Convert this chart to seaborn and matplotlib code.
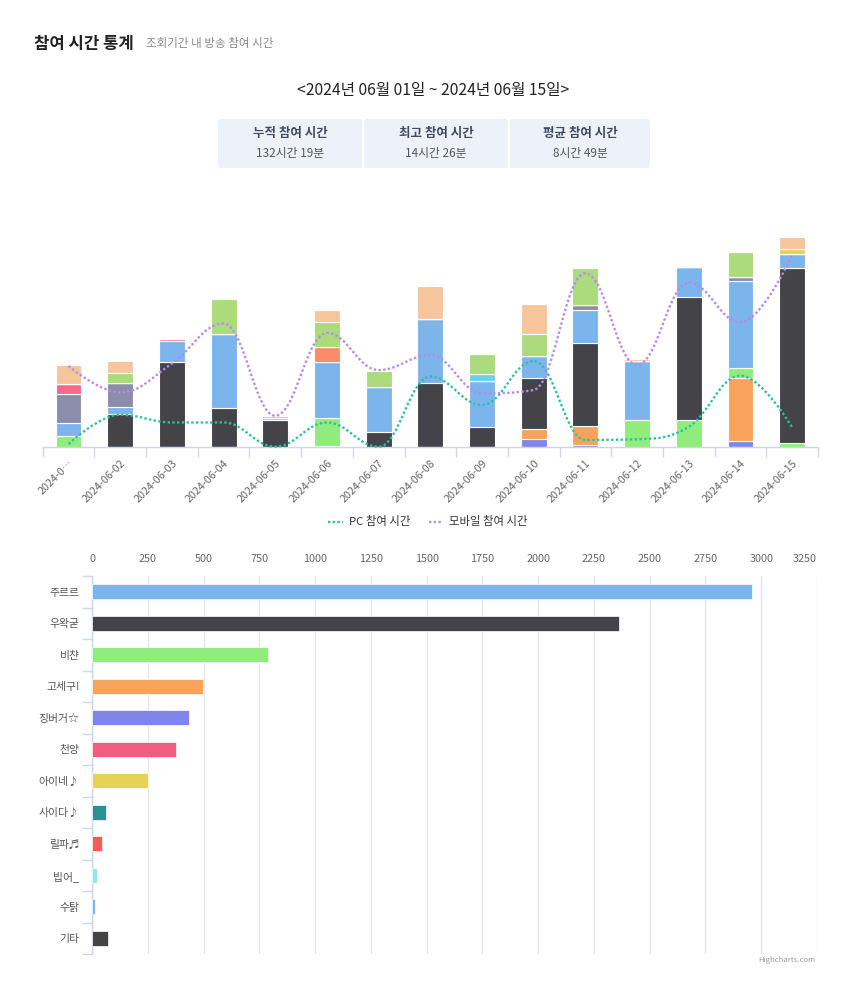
import numpy as np
import matplotlib
matplotlib.use("Agg")
import matplotlib.pyplot as plt
from matplotlib.patches import FancyBboxPatch, PathPatch
from matplotlib.path import Path
from matplotlib.lines import Line2D
import seaborn as sns

# ---------------- data ----------------
dates = ["2024-06-01", "2024-06-02", "2024-06-03", "2024-06-04", "2024-06-05",
         "2024-06-06", "2024-06-07", "2024-06-08", "2024-06-09", "2024-06-10",
         "2024-06-11", "2024-06-12", "2024-06-13", "2024-06-14", "2024-06-15"]
date_labels = ["2024-0…"] + dates[1:]

# daily participation minutes per streamer (stacked bottom -> top)
etc_daily      = [0, 0, 0, 0, 0, 4, 0, 0, 0, 30, 7, 0, 0, 24, 0]
cheonyang_d    = [0, 0, 0, 0, 0, 0, 0, 0, 0, 41, 78, 0, 0, 261, 0]
jingburger_d   = [44, 0, 0, 0, 0, 115, 0, 0, 0, 0, 0, 110, 110, 38, 14]
jururu_d       = [0, 135, 348, 160, 111, 0, 61, 263, 82, 213, 344, 0, 508, 0, 722]
woowakgood_d   = [52, 30, 89, 305, 8, 231, 186, 264, 188, 91, 135, 245, 124, 360, 59]
ine_d          = [120, 98, 0, 0, 0, 0, 0, 0, 0, 0, 21, 0, 0, 18, 0]
lilpa_d        = [44, 0, 8, 0, 0, 0, 0, 0, 0, 0, 0, 0, 0, 0, 0]
saida_d        = [0, 0, 0, 0, 0, 63, 0, 0, 0, 0, 0, 0, 0, 0, 0]
bibeo_d        = [0, 0, 0, 0, 0, 0, 0, 0, 29, 0, 0, 0, 0, 0, 0]
sutak_d        = [0, 0, 0, 0, 0, 0, 0, 0, 0, 0, 0, 0, 0, 0, 19]
viichan_d      = [0, 40, 0, 144, 8, 103, 67, 0, 82, 89, 151, 0, 0, 103, 0]
gosegu_d       = [78, 51, 0, 0, 0, 48, 0, 135, 0, 124, 0, 8, 0, 0, 52]

stack_series = [etc_daily, cheonyang_d, jingburger_d, jururu_d, woowakgood_d, ine_d,
                lilpa_d, saida_d, bibeo_d, sutak_d, viichan_d, gosegu_d]
stack_colors = ["#8085e9", "#f7a35c", "#90ed7d", "#434348", "#7cb5ec", "#8b8dab",
                "#f7688c", "#fd8a68", "#6dd0ea", "#e4d354", "#abdb7c", "#f7c59c"]

pc_minutes     = [11, 132, 100, 100, 0, 100, 0, 289, 172, 353, 28, 31, 82, 293, 80]
mobile_minutes = [333, 224, 343, 508, 128, 469, 316, 378, 220, 234, 715, 337, 676, 513, 790]

streamers = ["주르르", "우왁굳", "비챤", "고세구!", "징버거☆", "천양", "아이네♪",
             "사이다♪", "릴파♬", "빕어_", "수탉", "기타"]
totals = [2958, 2361, 790, 498, 435, 377, 251, 63, 45, 22, 14, 72]
bar_colors = ["#7cb5ec", "#434348", "#90ed7d", "#f7a35c", "#8085e9", "#f15c80",
              "#e4d354", "#2b908f", "#f45b5b", "#91e8e1", "#7cb5ec", "#434348"]
x_ticks = [0, 250, 500, 750, 1000, 1250, 1500, 1750, 2000, 2250, 2500, 2750, 3000, 3250]

# ---------------- style ----------------
sns.set_theme(style="white")
plt.rcParams["font.family"] = ["Noto Sans CJK KR", "DejaVu Sans"]

W, H = 850, 982
fig = plt.figure(figsize=(W / 100, H / 100), dpi=100)
fig.patch.set_facecolor("white")

def fx(px):
    return px / W

def fy(py):
    return 1 - py / H

# header texts
fig.text(fx(34), fy(44), "참여 시간 통계", fontsize=12, fontweight="bold",
         color="#222222", va="center", ha="left")
fig.text(fx(146), fy(44), "조회기간 내 방송 참여 시간", fontsize=8.3,
         color="#8a8a8a", va="center", ha="left")
fig.text(fx(433), fy(91), "<2024년 06월 01일 ~ 2024년 06월 15일>", fontsize=11.3,
         color="#222222", va="center", ha="center", fontweight="medium")

boxes = [(218, 362, "누적 참여 시간", "132시간 19분"),
         (364, 508, "최고 참여 시간", "14시간 26분"),
         (510, 650, "평균 참여 시간", "8시간 49분")]
for x0, x1, t, v in boxes:
    p = FancyBboxPatch((fx(x0), fy(168)), fx(x1 - x0), (168 - 119) / H,
                       boxstyle="round,pad=0,rounding_size=0.003",
                       transform=fig.transFigure, facecolor="#edf1f9",
                       edgecolor="none")
    fig.patches.append(p)
    cx = (x0 + x1) / 2
    fig.text(fx(cx), fy(134), t, fontsize=9, fontweight="bold", color="#3f4a5e",
             ha="center", va="center")
    fig.text(fx(cx), fy(154), v, fontsize=8.5, color="#555555",
             ha="center", va="center")

# ---------------- top stacked chart ----------------
ax1 = fig.add_axes([fx(42.7), fy(446.7), fx(818 - 42.7), (446.7 - 204.2) / H])
xpos = np.arange(len(dates))
bottom = np.zeros(len(dates))
for vals, col in zip(stack_series, stack_colors):
    vals = np.array(vals, dtype=float)
    ax1.bar(xpos, vals, bottom=bottom, width=0.5, color=col,
            edgecolor="white", linewidth=0.8, zorder=2)
    bottom += vals


def hc_spline(xs, ys, smoothing=1.5):
    n = len(xs)
    left = [(xs[i], ys[i]) for i in range(n)]
    right = [(xs[i], ys[i]) for i in range(n)]
    d = smoothing + 1
    for i in range(1, n - 1):
        px, py = xs[i], ys[i]
        lx, ly = xs[i - 1], ys[i - 1]
        nx, ny = xs[i + 1], ys[i + 1]
        lcx = (smoothing * px + lx) / d
        lcy = (smoothing * py + ly) / d
        rcx = (smoothing * px + nx) / d
        rcy = (smoothing * py + ny) / d
        if rcx != lcx:
            corr = ((rcy - lcy) * (rcx - px)) / (rcx - lcx) + py - rcy
            lcy += corr
            rcy += corr
        if lcy > ly and lcy > py:
            lcy = max(ly, py)
            rcy = 2 * py - lcy
        elif lcy < ly and lcy < py:
            lcy = min(ly, py)
            rcy = 2 * py - lcy
        if rcy > ny and rcy > py:
            rcy = max(ny, py)
            lcy = 2 * py - rcy
        elif rcy < ny and rcy < py:
            rcy = min(ny, py)
            lcy = 2 * py - rcy
        left[i] = (lcx, lcy)
        right[i] = (rcx, rcy)
    verts = [(xs[0], ys[0])]
    codes = [Path.MOVETO]
    for i in range(1, n):
        verts += [right[i - 1], left[i], (xs[i], ys[i])]
        codes += [Path.CURVE4] * 3
    return Path(verts, codes)


pc_color = "#2ac19e"
mo_color = "#b68bea"
dot_style = (0, (1, 1))
for vals, col in [(pc_minutes, pc_color), (mobile_minutes, mo_color)]:
    path = hc_spline(list(xpos.astype(float)), [float(v) for v in vals])
    ax1.add_patch(PathPatch(path, facecolor="none", edgecolor=col, lw=1.7,
                            linestyle=dot_style, zorder=4, clip_on=False))

ax1.set_xlim(-0.5, len(dates) - 0.5)
ax1.set_ylim(0, 1000)
for s in ["top", "right", "left"]:
    ax1.spines[s].set_visible(False)
ax1.spines["bottom"].set_color("#ccd6eb")
ax1.spines["bottom"].set_linewidth(1)
ax1.set_yticks([])
ax1.set_xticks(xpos)
ax1.set_xticklabels(date_labels, rotation=45, ha="right", rotation_mode="anchor",
                    fontsize=7.8, color="#666666")
ax1.set_xticks(np.arange(-0.5, len(dates), 1.0), minor=True)
ax1.tick_params(axis="x", which="major", length=0, pad=8)
ax1.tick_params(axis="x", which="minor", length=7, color="#ccd6eb", width=1,
                direction="out")
ax1.tick_params(axis="x", bottom=True, which="both")
ax1.grid(False)
ax1.set_facecolor("none")

handles = [Line2D([0], [0], color=pc_color, lw=1.7, linestyle=dot_style),
           Line2D([0], [0], color=mo_color, lw=1.7, linestyle=dot_style)]
fig.legend(handles, ["PC 참여 시간", "모바일 참여 시간"], loc="center",
           bbox_to_anchor=(fx(428), fy(522)), ncol=2, frameon=False,
           fontsize=8.2, handlelength=1.3, handletextpad=0.5, columnspacing=1.6,
           labelcolor="#333333")

# ---------------- bottom horizontal bar chart ----------------
ax2 = fig.add_axes([fx(92), fy(954), fx(817 - 92), (954 - 576) / H])
sns.barplot(x=totals, y=streamers, hue=streamers, palette=bar_colors,
            legend=False, orient="h", width=0.48, edgecolor="white",
            linewidth=0.5, saturation=1, ax=ax2, zorder=3)
ax2.set_xlim(0, 3250)
ax2.set_ylim(len(streamers) - 0.5, -0.5)
ax2.xaxis.tick_top()
ax2.set_xticks(x_ticks, [str(t) for t in x_ticks])
labels = ax2.get_xticklabels()
labels[-1].set_horizontalalignment("right")
ax2.tick_params(axis="x", length=0, pad=9, labelsize=7.8, labelcolor="#666666")
ax2.grid(axis="x", color="#e6e6e6", linewidth=1)
ax2.grid(axis="y", visible=False)
ax2.set_axisbelow(True)
for s in ["top", "right", "bottom"]:
    ax2.spines[s].set_visible(False)
ax2.spines["left"].set_color("#ccd6eb")
ax2.spines["left"].set_linewidth(1)
ax2.set_yticks(np.arange(-0.5, len(streamers), 1.0), minor=True)
ax2.tick_params(axis="y", which="minor", length=7, color="#ccd6eb", width=1,
                left=True)
ax2.tick_params(axis="y", which="major", length=0, pad=9, labelsize=7.8,
                labelcolor="#555555")
ax2.set_xlabel("")
ax2.set_ylabel("")
ax2.set_facecolor("none")

fig.text(fx(787), fy(960), "Highcharts.com", fontsize=5.5, color="#999999",
         ha="center", va="center")

fig.savefig("out.png", dpi=100)
